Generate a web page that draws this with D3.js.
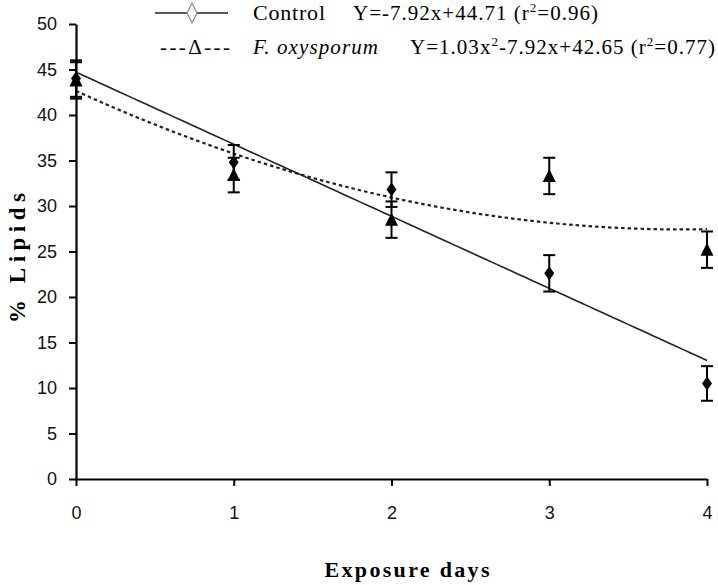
<!DOCTYPE html>
<html><head><meta charset="utf-8">
<script src="https://cdn.jsdelivr.net/npm/d3@7"></script>
<style>body{margin:0;background:#fff;} svg{display:block;} .serif{font-family:'Liberation Serif','Times New Roman',serif;}</style>
</head><body>
<svg id="chart" width="718" height="585"></svg>
<script>
const days = [0, 1, 2, 3, 4];
const controlMean = [44.0, 34.8, 31.8, 22.6, 10.5];
const controlErr  = [2.0, 1.9, 1.9, 2.0, 1.9];
const fusMean = [43.8, 33.4, 28.5, 33.3, 25.2];
const fusErr  = [2.0, 1.9, 2.0, 2.0, 2.0];
const controlCoef = [44.71, -7.92];        // a + b x
const fusCoef = [42.65, -7.92, 1.03];      // a + b x + c x^2
const xTicks = [0, 1, 2, 3, 4];
const yTicks = [0, 5, 10, 15, 20, 25, 30, 35, 40, 45, 50];

const svg = d3.select("#chart");
const x = d3.scaleLinear().domain([0, 4]).range([76, 707]);
const y = d3.scaleLinear().domain([0, 50]).range([479, 24]);

const sans = "'Liberation Sans', Arial, sans-serif";

// axes
const yAxis = svg.append("g").attr("transform", "translate(76,0)")
  .call(d3.axisLeft(y).tickValues(yTicks).tickFormat(d3.format("d")).tickSize(7).tickSizeOuter(0).tickPadding(12));
const xAxis = svg.append("g").attr("transform", "translate(0,479)")
  .call(d3.axisBottom(x).tickValues(xTicks).tickFormat(d3.format("d")).tickSize(7).tickSizeOuter(0).tickPadding(20));
[yAxis, xAxis].forEach(a => {
  a.selectAll("path").attr("stroke", "#000").attr("stroke-width", 2.2);
  a.selectAll("line").attr("stroke", "#000").attr("stroke-width", 2);
  a.selectAll("text").attr("font-family", sans).attr("font-size", 18).attr("fill", "#111");
});

// trend lines
const xs = d3.range(0, 4.0001, 0.05);
const ctrlLine = d3.line().x(d => x(d)).y(d => y(controlCoef[0] + controlCoef[1] * d));
const fusLine = d3.line().x(d => x(d)).y(d => y(fusCoef[0] + fusCoef[1] * d + fusCoef[2] * d * d));
svg.append("path").attr("d", ctrlLine(xs)).attr("fill", "none").attr("stroke", "#222").attr("stroke-width", 1.6);
svg.append("path").attr("d", fusLine(xs)).attr("fill", "none").attr("stroke", "#222").attr("stroke-width", 2.2).attr("stroke-dasharray", "3.5,3");

// error bars
function errBars(mean, err) {
  const g = svg.append("g").attr("stroke", "#000").attr("stroke-width", 2);
  days.forEach((d, i) => {
    const cx = x(d), y1 = y(mean[i] + err[i]), y2 = y(mean[i] - err[i]);
    g.append("line").attr("x1", cx).attr("x2", cx).attr("y1", y1).attr("y2", y2);
    g.append("line").attr("x1", cx - 6).attr("x2", cx + 6).attr("y1", y1).attr("y2", y1);
    g.append("line").attr("x1", cx - 6).attr("x2", cx + 6).attr("y1", y2).attr("y2", y2);
  });
}
errBars(controlMean, controlErr);
errBars(fusMean, fusErr);

// markers
const diamond = "M0,-7L5,0L0,7L-5,0Z";
const triangle = "M0,-7L6.5,6L-6.5,6Z";
svg.append("g").selectAll("path").data(days).join("path")
  .attr("d", diamond).attr("fill", "#000")
  .attr("transform", (d, i) => `translate(${x(d)},${y(controlMean[i])})`);
svg.append("g").selectAll("path").data(days).join("path")
  .attr("d", triangle).attr("fill", "#000")
  .attr("transform", (d, i) => `translate(${x(d)},${y(fusMean[i])})`);

// legend
const lg = svg.append("g");
lg.append("line").attr("x1", 155).attr("x2", 228).attr("y1", 13).attr("y2", 13).attr("stroke", "#222").attr("stroke-width", 1.6);
lg.append("path").attr("d", "M0,-10L5,0L0,10L-5,0Z").attr("transform", "translate(192,13)")
  .attr("fill", "#fff").attr("stroke", "#888").attr("stroke-width", 1.2);
lg.append("text").attr("class", "serif").attr("x", 253).attr("y", 20).attr("font-size", 22)
  .attr("textLength", 72).attr("lengthAdjust", "spacing").text("Control");
lg.append("text").attr("class", "serif").attr("x", 353).attr("y", 20).attr("font-size", 21)
  .attr("textLength", 245).attr("lengthAdjust", "spacing")
  .html("Y=-7.92x+44.71 (r<tspan font-size='13' dy='-8'>2</tspan><tspan dy='8'>=0.96)</tspan>");
lg.append("text").attr("class", "serif").attr("x", 160).attr("y", 54).attr("font-size", 21)
  .attr("textLength", 70).attr("lengthAdjust", "spacing").text("---\u0394---");
lg.append("text").attr("class", "serif").attr("x", 253).attr("y", 54).attr("font-size", 21)
  .attr("font-style", "italic").attr("textLength", 125).attr("lengthAdjust", "spacing").text("F. oxysporum");
lg.append("text").attr("class", "serif").attr("x", 410).attr("y", 54).attr("font-size", 21)
  .attr("textLength", 305).attr("lengthAdjust", "spacing")
  .html("Y=1.03x<tspan font-size='13' dy='-8'>2</tspan><tspan dy='8'>-7.92x+42.65 (r</tspan><tspan font-size='13' dy='-8'>2</tspan><tspan dy='8'>=0.77)</tspan>");

// axis titles
svg.append("text").attr("class", "serif").attr("x", 407).attr("y", 577).attr("text-anchor", "middle")
  .attr("font-weight", "bold").attr("font-size", 22)
  .attr("textLength", 165).attr("lengthAdjust", "spacing")
  .text("Exposure days");
svg.append("text").attr("class", "serif").attr("transform", "translate(25,258) rotate(-90)").attr("text-anchor", "middle")
  .attr("font-weight", "bold").attr("font-size", 23)
  .attr("textLength", 130).attr("lengthAdjust", "spacing")
  .text("% Lipids");
</script>
</body></html>
